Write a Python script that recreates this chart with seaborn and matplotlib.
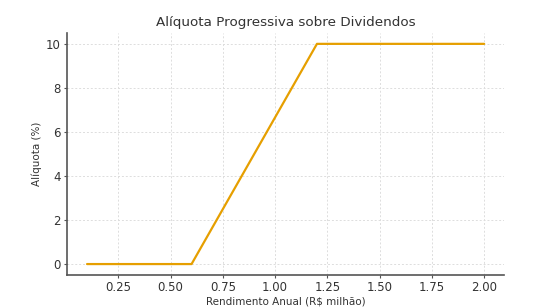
import matplotlib
matplotlib.use("Agg")
import matplotlib.pyplot as plt
import seaborn as sns
import pandas as pd

rendimento = [0.1, 0.6, 1.2, 2.0]
aliquota = [0, 0, 10, 10]
x_ticks = [0.25, 0.50, 0.75, 1.00, 1.25, 1.50, 1.75, 2.00]
y_ticks = [0, 2, 4, 6, 8, 10]

sns.set_style("ticks")
plt.rcParams['font.family'] = ['DejaVu Sans']
plt.rcParams['text.color'] = '#333333'
plt.rcParams['axes.labelcolor'] = '#333333'
plt.rcParams['xtick.color'] = '#333333'
plt.rcParams['ytick.color'] = '#333333'

df = pd.DataFrame({"x": rendimento, "y": aliquota})

fig = plt.figure(figsize=(5.6, 3.07), dpi=100)
ax = fig.add_axes([0.12, 0.104, 0.78, 0.789])
sns.lineplot(data=df, x="x", y="y", ax=ax, color="#E69F00", linewidth=1.6)
ax.set_xticks(x_ticks)
ax.set_xticklabels([f"{t:.2f}" for t in x_ticks])
ax.set_yticks(y_ticks)
ax.grid(True, linestyle=(0, (2, 2)), color="#dddddd", linewidth=0.7)
ax.tick_params(labelsize=8.5, length=2.5, color="#555555", pad=2)
for s in ["left", "bottom"]:
    ax.spines[s].set_color("#555555")
    ax.spines[s].set_linewidth(1.2)
sns.despine(ax=ax)
ax.set_xlabel("Rendimento Anual (R$ milhão)", fontsize=7.5, labelpad=1.5)
ax.set_ylabel("Alíquota (%)", fontsize=7.5, labelpad=3)
ax.set_title("Alíquota Progressiva sobre Dividendos", fontsize=9.7, pad=5)
fig.savefig("out.png", dpi=100)
